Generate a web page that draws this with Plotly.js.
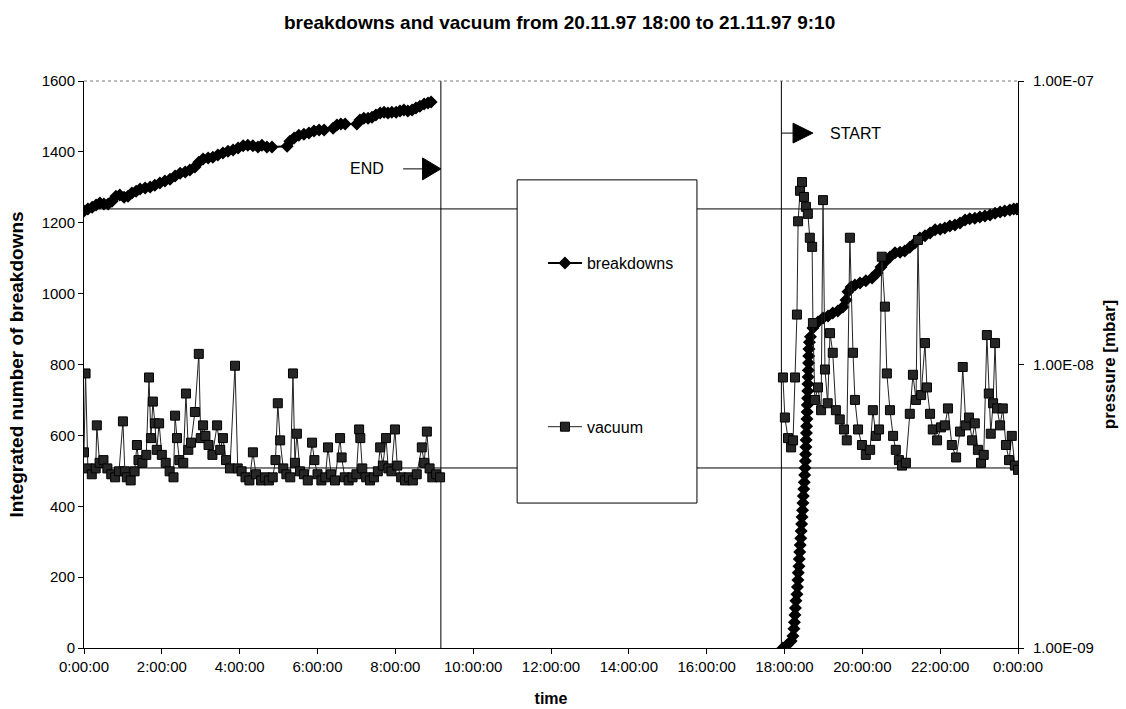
<!DOCTYPE html>
<html>
<head>
<meta charset="utf-8">
<script src="https://cdn.plot.ly/plotly-3.0.1.min.js"></script>
<style>
  html, body { margin: 0; padding: 0; background: #fff; }
  #chart { width: 1126px; height: 709px; }
</style>
</head>
<body>
<div id="chart"></div>
<script>
// ---- x axis ticks (hours of day) ----
const tickHours = [0, 2, 4, 6, 8, 10, 12, 14, 16, 18, 20, 22, 24];
const tickLabels = ['0:00:00', '2:00:00', '4:00:00', '6:00:00', '8:00:00', '10:00:00', '12:00:00',
                    '14:00:00', '16:00:00', '18:00:00', '20:00:00', '22:00:00', '0:00:00'];

// ---- breakdowns, 21.11.97 0:00 -> 9:10 (hours, integrated count) ----
const bdTimeA = [0.00,0.10,0.21,0.31,0.41,0.51,0.62,0.72,0.82,0.92,
                 1.03,1.13,1.23,1.34,1.44,1.57,1.70,1.82,1.95,2.08,
                 2.21,2.34,2.47,2.60,2.72,2.85,2.95,3.06,3.19,3.31,
                 3.44,3.57,3.70,3.83,3.96,4.09,4.21,4.34,4.47,4.57,
                 4.70,4.83,5.22,5.29,5.40,5.52,5.65,5.78,5.91,6.04,
                 6.17,6.40,6.50,6.60,6.71,7.01,7.09,7.19,7.30,7.40,
                 7.50,7.61,7.71,7.81,7.91,8.02,8.12,8.22,8.32,8.43,
                 8.53,8.63,8.74,8.84,8.92];
const bdA = [1233,1239,1244,1250,1256,1253,1253,1261,1275,1278,
             1272,1275,1284,1289,1295,1298,1301,1306,1312,1318,
             1323,1332,1340,1343,1349,1357,1371,1380,1383,1385,
             1391,1397,1402,1405,1411,1417,1419,1417,1414,1419,
             1414,1414,1416,1430,1439,1447,1450,1453,1459,1462,
             1462,1467,1476,1479,1479,1479,1490,1495,1495,1498,
             1504,1510,1512,1510,1512,1512,1515,1518,1515,1518,
             1524,1529,1535,1538,1541];

// ---- breakdowns, 20.11.97 18:00 -> 24:00 (dense readings along the steep rise) ----
const bdTimeB = [17.96,18.06,18.17,18.217,18.243,18.256,18.268,18.281,18.294,18.320,
                 18.333,18.345,18.353,18.371,18.379,18.392,18.404,18.417,18.428,18.440,
                 18.451,18.464,18.474,18.484,18.495,18.507,18.518,18.528,18.536,18.543,
                 18.551,18.556,18.564,18.569,18.577,18.582,18.587,18.592,18.597,18.602,
                 18.607,18.613,18.618,18.623,18.628,18.641,18.666,18.73,18.86,18.99,
                 19.12,19.24,19.37,19.50,19.58,19.63,19.71,19.81,19.94,20.09,
                 20.25,20.38,20.48,20.58,20.71,20.84,20.97,21.09,21.22,21.35,
                 21.48,21.61,21.74,21.87,22.00,22.12,22.25,22.38,22.51,22.64,
                 22.76,22.89,23.02,23.15,23.28,23.41,23.54,23.66,23.79,23.89,
                 23.97];
const bdB = [0,8,20,34,54,73,93,113,133,152,
             172,192,212,231,251,271,291,310,330,350,
             370,389,409,429,449,468,488,508,528,547,
             567,587,607,626,646,666,686,705,725,745,
             765,784,804,824,844,863,878,903,920,931,
             937,945,951,962,982,1005,1019,1024,1030,1036,
             1044,1058,1075,1089,1103,1115,1117,1120,1131,1143,
             1157,1163,1171,1180,1182,1185,1191,1194,1199,1208,
             1211,1213,1216,1219,1222,1227,1230,1233,1236,1239,
             1239];

// ---- vacuum, 21.11.97 0:00 -> 9:10 (hours, mbar) ----
const vacTimeA = [0.00,0.04,0.10,0.20,0.30,0.33,0.40,0.50,0.60,0.70,
                  0.80,0.90,1.00,1.05,1.10,1.20,1.30,1.36,1.40,1.50,
                  1.60,1.67,1.72,1.77,1.82,1.87,1.93,2.00,2.10,2.20,
                  2.30,2.34,2.39,2.45,2.55,2.62,2.68,2.75,2.85,2.95,
                  3.00,3.06,3.12,3.20,3.30,3.42,3.50,3.57,3.65,3.75,
                  3.88,3.95,4.05,4.15,4.25,4.34,4.42,4.55,4.65,4.75,
                  4.85,4.92,4.98,5.04,5.12,5.20,5.30,5.37,5.42,5.47,
                  5.55,5.65,5.75,5.86,5.92,6.00,6.10,6.20,6.27,6.35,
                  6.45,6.58,6.62,6.70,6.80,6.90,7.00,7.07,7.10,7.15,
                  7.25,7.35,7.45,7.55,7.61,7.68,7.76,7.82,7.90,7.99,
                  8.05,8.15,8.25,8.35,8.45,8.55,8.68,8.74,8.81,8.88,
                  8.95,9.05,9.15];
const vacA = [4.9e-9,9.3e-9,4.3e-9,4.1e-9,4.3e-9,6.1e-9,4.5e-9,4.6e-9,4.3e-9,4.1e-9,
              4.0e-9,4.2e-9,6.3e-9,4.2e-9,4.0e-9,3.9e-9,4.2e-9,5.2e-9,4.6e-9,4.5e-9,
              4.8e-9,9.0e-9,5.5e-9,7.4e-9,6.2e-9,5.0e-9,6.2e-9,4.8e-9,4.5e-9,4.2e-9,
              4.0e-9,6.6e-9,5.5e-9,4.6e-9,4.5e-9,7.9e-9,5.0e-9,5.3e-9,6.8e-9,1.09e-8,
              5.5e-9,6.1e-9,5.6e-9,5.2e-9,4.8e-9,6.1e-9,5.0e-9,5.5e-9,4.6e-9,4.3e-9,
              9.9e-9,4.3e-9,4.2e-9,4.0e-9,3.9e-9,4.9e-9,4.1e-9,3.9e-9,4.0e-9,3.9e-9,
              4.0e-9,4.6e-9,7.3e-9,5.4e-9,4.3e-9,4.1e-9,4.0e-9,9.3e-9,4.5e-9,5.7e-9,
              4.2e-9,4.1e-9,3.9e-9,5.3e-9,4.6e-9,4.1e-9,3.9e-9,4.0e-9,5.1e-9,4.1e-9,
              3.9e-9,5.5e-9,4.7e-9,4.0e-9,3.9e-9,4.0e-9,4.1e-9,5.9e-9,5.5e-9,4.3e-9,
              4.0e-9,3.9e-9,4.0e-9,4.2e-9,5.1e-9,4.4e-9,5.5e-9,4.3e-9,4.2e-9,5.9e-9,
              4.4e-9,4.0e-9,3.9e-9,4.0e-9,3.9e-9,4.1e-9,5.1e-9,4.5e-9,5.8e-9,4.3e-9,
              4.0e-9,4.1e-9,4.0e-9];

// ---- vacuum, 20.11.97 18:00 -> 24:00 ----
const vacTimeB = [17.96,18.01,18.09,18.17,18.22,18.27,18.32,18.35,18.40,18.45,
                  18.50,18.55,18.60,18.65,18.71,18.73,18.78,18.86,18.94,18.99,
                  19.04,19.11,19.17,19.24,19.32,19.42,19.53,19.60,19.68,19.76,
                  19.81,19.89,19.99,20.09,20.20,20.27,20.35,20.43,20.50,20.58,
                  20.63,20.71,20.79,20.86,20.94,21.02,21.12,21.22,21.30,21.38,
                  21.43,21.51,21.61,21.66,21.74,21.81,21.92,22.02,22.12,22.20,
                  22.30,22.41,22.51,22.58,22.66,22.74,22.82,22.89,22.97,23.05,
                  23.12,23.20,23.25,23.30,23.36,23.41,23.46,23.54,23.61,23.69,
                  23.77,23.84,23.92,24.00];
const vacB = [9.0e-9,6.5e-9,5.5e-9,5.1e-9,5.4e-9,9.0e-9,1.5e-8,3.2e-8,4.1e-8,4.4e-8,
              3.9e-8,3.6e-8,3.4e-8,2.8e-8,2.6e-8,1.4e-8,7.5e-9,8.3e-9,6.9e-9,3.8e-8,
              9.6e-9,7.3e-9,1.29e-8,1.1e-8,6.9e-9,6.4e-9,5.9e-9,5.4e-9,2.8e-8,1.1e-8,
              7.5e-9,5.9e-9,5.2e-9,4.8e-9,5.0e-9,6.9e-9,5.6e-9,5.9e-9,2.4e-8,1.6e-8,
              9.3e-9,6.9e-9,5.6e-9,5.0e-9,4.6e-9,4.4e-9,4.5e-9,6.7e-9,9.2e-9,7.5e-9,
              2.75e-8,7.8e-9,1.19e-8,8.3e-9,6.7e-9,5.9e-9,5.4e-9,6.0e-9,6.1e-9,7.0e-9,
              5.2e-9,4.7e-9,5.8e-9,9.8e-9,6.1e-9,6.5e-9,5.4e-9,6.2e-9,5.0e-9,4.5e-9,
              4.8e-9,1.27e-8,7.9e-9,5.7e-9,7.3e-9,1.19e-8,7.0e-9,6.1e-9,7.0e-9,5.2e-9,
              4.6e-9,5.6e-9,4.4e-9,4.25e-9];

// ---- annotation positions (hours / counts) ----
const endHour = 9.17;     // END of run 21.11.97 9:10
const startHour = 17.92;  // START of run 20.11.97 18:00
const refLineHigh = 1239; // level carried across the break
const refLineLow = 508;

const FONT = 'Arial, "Liberation Sans", Helvetica, sans-serif';

const vacuum = {
  name: 'vacuum', legendgroup: 'v', legendrank: 2,
  x: vacTimeA.concat([null], vacTimeB),
  y: vacA.concat([null], vacB),
  yaxis: 'y2', type: 'scatter', mode: 'lines+markers', connectgaps: false,
  line: { color: '#222', width: 1 },
  marker: { symbol: 'square', size: 9, color: '#262626', line: { color: '#000', width: 1 } },
  hoverinfo: 'x+y'
};
const breakdowns = {
  name: 'breakdowns', legendgroup: 'b', legendrank: 1,
  x: bdTimeA.concat([null], bdTimeB),
  y: bdA.concat([null], bdB),
  yaxis: 'y', type: 'scatter', mode: 'lines+markers', connectgaps: false,
  line: { color: '#000', width: 2 },
  marker: { symbol: 'diamond', size: 10, color: '#000' },
  hoverinfo: 'x+y'
};

const shapes = [
  { type: 'line', xref: 'x', yref: 'y', x0: 0, x1: 24, y0: refLineHigh, y1: refLineHigh, line: { color: '#000', width: 1 }, layer: 'below' },
  { type: 'line', xref: 'x', yref: 'y', x0: 0, x1: 24, y0: refLineLow, y1: refLineLow, line: { color: '#000', width: 1 }, layer: 'below' },
  { type: 'line', xref: 'x', yref: 'y', x0: endHour, x1: endHour, y0: 0, y1: 1600, line: { color: '#000', width: 1 }, layer: 'below' },
  { type: 'line', xref: 'x', yref: 'y', x0: startHour, x1: startHour, y0: 0, y1: 1600, line: { color: '#000', width: 1 }, layer: 'below' },
  { type: 'rect', xref: 'x', yref: 'y', x0: 11.13, x1: 15.75, y0: 409, y1: 1321, fillcolor: '#fff', line: { color: '#000', width: 1 }, layer: 'below' },
  { type: 'line', xref: 'paper', yref: 'paper', x0: 0, x1: 1, y0: 1, y1: 1, line: { color: '#777', width: 1, dash: 'dot' } },
  // END arrow
  { type: 'line', xref: 'x', yref: 'y', x0: 8.20, x1: 8.75, y0: 1352, y1: 1352, line: { color: '#000', width: 1 } },
  { type: 'path', xref: 'x', yref: 'y', path: 'M 8.70 1383 L 9.17 1352 L 8.70 1321 Z', fillcolor: '#000', line: { color: '#000', width: 1 } },
  // START arrow
  { type: 'line', xref: 'x', yref: 'y', x0: startHour, x1: 18.25, y0: 1453, y1: 1453, line: { color: '#000', width: 1 } },
  { type: 'path', xref: 'x', yref: 'y', path: 'M 18.22 1481 L 18.73 1453 L 18.22 1425 Z', fillcolor: '#000', line: { color: '#000', width: 1 } }
];

const annotations = [
  { xref: 'x', yref: 'y', x: 7.27, y: 1352, text: 'END', showarrow: false, font: { family: FONT, size: 16, color: '#000' } },
  { xref: 'x', yref: 'y', x: 19.12, y: 1453, xanchor: 'left', text: 'START', showarrow: false, font: { family: FONT, size: 16, color: '#000' } }
];

const layout = {
  width: 1126, height: 709,
  paper_bgcolor: '#fff', plot_bgcolor: '#fff',
  margin: { l: 84, r: 108, t: 81, b: 61 },
  font: { family: FONT, size: 15, color: '#000' },
  title: { text: '<b>breakdowns and vacuum from 20.11.97 18:00 to 21.11.97 9:10</b>',
           font: { family: FONT, size: 19, color: '#000' },
           x: 0.497, xref: 'container', xanchor: 'center', y: 0.969, yref: 'container', yanchor: 'middle' },
  showlegend: true,
  legend: { x: 0.4914, xanchor: 'left', y: 0.709, yanchor: 'top', bgcolor: 'rgba(0,0,0,0)',
            borderwidth: 0, tracegroupgap: 140, itemwidth: 34,
            font: { family: FONT, size: 16, color: '#000' } },
  xaxis: {
    range: [0, 24], tickvals: tickHours, ticktext: tickLabels,
    showgrid: false, zeroline: false, showline: true, linecolor: '#000', linewidth: 1,
    ticks: 'outside', ticklen: 5, tickcolor: '#000', tickfont: { family: FONT, size: 15 },
    title: { text: '<b>time</b>', font: { family: FONT, size: 16 }, standoff: 18 }
  },
  yaxis: {
    range: [0, 1600], dtick: 200, tick0: 0,
    showgrid: false, zeroline: false, showline: true, linecolor: '#000', linewidth: 1,
    ticks: 'outside', ticklen: 5, tickcolor: '#000', tickfont: { family: FONT, size: 15 },
    title: { text: '<b>Integrated number of breakdowns</b>', font: { family: FONT, size: 19 }, standoff: 12 }
  },
  yaxis2: {
    type: 'log', range: [-9, -7], overlaying: 'y', side: 'right',
    tickvals: [1e-9, 1e-8, 1e-7], ticktext: ['1.00E-09', '1.00E-08', '1.00E-07'],
    showgrid: false, zeroline: false, showline: true, linecolor: '#000', linewidth: 1,
    ticks: 'outside', ticklen: 5, tickcolor: '#000', tickfont: { family: FONT, size: 15 },
    ticklabelstandoff: 6,
    title: { text: '<b>pressure [mbar]</b>', font: { family: FONT, size: 17 }, standoff: 10 }
  },
  shapes: shapes,
  annotations: annotations
};

Plotly.newPlot('chart', [vacuum, breakdowns], layout, { displayModeBar: false, staticPlot: true });
</script>
</body>
</html>
